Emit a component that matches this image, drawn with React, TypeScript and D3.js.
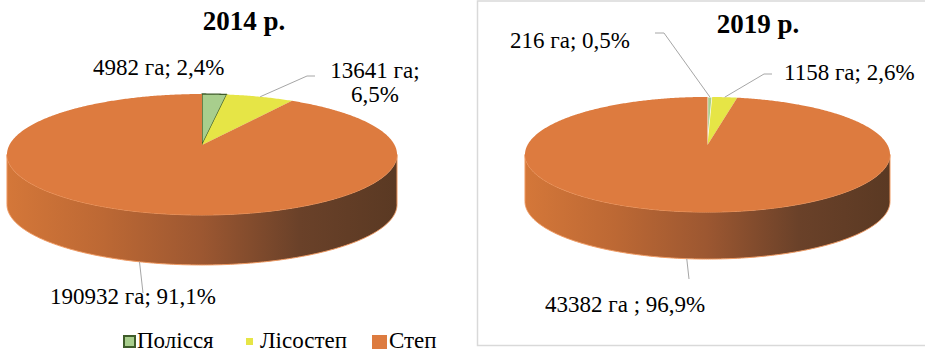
import React from "react";
import * as d3 from "d3";

const categories = ["Полісся", "Лісостеп", "Степ"];
const values2014 = [4982, 13641, 190932];
const values2019 = [216, 1158, 43382];
const labels2014 = ["4982 га; 2,4%", "13641 га;|6,5%", "190932 га; 91,1%"];
const labels2019 = ["216 га; 0,5%", "1158 га; 2,6%", "43382 га ; 96,9%"];
const titles = ["2014 р.", "2019 р."];

const COLORS = ["#A8CE8D", "#E6E546", "#DD7B3F"];
const FONT = "'Liberation Serif', 'Times New Roman', serif";

type Geo = { cx: number; cy: number; A: number; B: number; k: number; depth: number };

function proj(g: Geo, a: number): [number, number] {
  const X = Math.sin(a);
  const Z = Math.cos(a);
  const s = 1 / (1 + g.k * Z);
  return [g.cx + g.A * X * s, g.cy - g.B * Z * s];
}

function arcPts(g: Geo, a0: number, a1: number, dy = 0): [number, number][] {
  const n = Math.max(2, Math.ceil(Math.abs(a1 - a0) / 0.01));
  const pts: [number, number][] = [];
  for (let i = 0; i <= n; i++) {
    const a = a0 + ((a1 - a0) * i) / n;
    const p = proj(g, a);
    pts.push([p[0], p[1] + dy]);
  }
  return pts;
}

function Pie3D({
  id,
  values,
  geo,
  sliverStroke,
  labels,
  leaders,
  labelPos,
}: {
  id: string;
  values: number[];
  geo: Geo;
  sliverStroke: string[];
  labels: string[];
  leaders: ([number, number][] | null)[];
  labelPos: { x: number; y: number; anchor: string }[];
}) {
  const pie = d3.pie<number>().sort(null).value((d) => d)(values);
  const line = d3.line();
  // side: front part between extreme points
  const aR = Math.acos(-geo.k);
  const aL = 2 * Math.PI - aR;
  const topFront = arcPts(geo, aR, aL);
  const botFront = arcPts(geo, aL, aR, geo.depth);
  const sidePath = line([...topFront, ...botFront])! + "Z";
  const xs = topFront.map((p) => p[0]);
  const x0 = d3.min(xs)!;
  const x1 = d3.max(xs)!;

  return (
    <g>
      <defs>
        <linearGradient id={id + "side"} gradientUnits="userSpaceOnUse" x1={x0} x2={x1} y1={0} y2={0}>
          <stop offset="0" stopColor="#D47739" />
          <stop offset="0.25" stopColor="#BC6834" />
          <stop offset="0.5" stopColor="#9C5731" />
          <stop offset="0.75" stopColor="#6A4129" />
          <stop offset="1" stopColor="#5A3923" />
        </linearGradient>
      </defs>
      <path d={sidePath} fill={`url(#${id}side)`} stroke="#F09A62" strokeWidth={1} />
      {pie.map((s, i) => {
        const pts = arcPts(geo, s.startAngle, s.endAngle);
        const d = line([[geo.cx, geo.cy], ...pts])! + "Z";
        return (
          <path
            key={i}
            d={d}
            fill={COLORS[i]}
            stroke={sliverStroke[i]}
            strokeWidth={sliverStroke[i] === "none" ? 0 : 1.3}
            strokeLinejoin="round"
          />
        );
      })}
      {pie.map((s, i) => {
        const lp = leaders[i];
        if (!lp) return null;
        const mid = (s.startAngle + s.endAngle) / 2;
        const p = proj(geo, mid);
        const front = Math.cos(mid) < 0;
        const start: [number, number] = [p[0], p[1] + (front ? geo.depth : 0)];
        return (
          <path key={"l" + i} d={line([start, ...lp])!} fill="none" stroke="#A6A6A6" strokeWidth={1} />
        );
      })}
      {labels.map((t, i) => {
        const parts = t.split("|");
        const lp = labelPos[i];
        return (
          <text
            key={"t" + i}
            x={lp.x}
            y={lp.y}
            textAnchor={lp.anchor as any}
            fontFamily={FONT}
            fontSize={23}
            fill="#000"
          >
            {parts.map((p, j) => (
              <tspan key={j} x={lp.x} dy={j === 0 ? 0 : 24}>
                {p}
              </tspan>
            ))}
          </text>
        );
      })}
    </g>
  );
}

export default function App() {
  const geoL: Geo = { cx: 202, cy: 145, A: 192.6, B: 59, k: 0.157, depth: 50 };
  const geoR: Geo = { cx: 707.5, cy: 145, A: 180, B: 56, k: 0.165, depth: 47 };

  const legendItems = [
    { x: 123, label: categories[0] },
    { x: 246, label: categories[1] },
    { x: 372, label: categories[2] },
  ];

  return (
    <svg
      width={925}
      height={355}
      style={{ position: "absolute", left: 0, top: 0, background: "#fff" }}
    >
      <rect x={0} y={0} width={925} height={355} fill="#fff" />
      <rect x={477.5} y={1} width={460} height={344.5} fill="#fff" stroke="#D9D9D9" strokeWidth={1.5} />

      <text x={244} y={30} textAnchor="middle" fontFamily={FONT} fontWeight="bold" fontSize={27}>
        {titles[0]}
      </text>
      <text x={758} y={33} textAnchor="middle" fontFamily={FONT} fontWeight="bold" fontSize={27}>
        {titles[1]}
      </text>

      <Pie3D
        id="p14"
        values={values2014}
        geo={geoL}
        sliverStroke={["#3E5C2A", "none", "none"]}
        labels={labels2014}
        leaders={[null, [[307, 76], [315, 76]], [[143, 293]]]}
        labelPos={[
          { x: 93, y: 75, anchor: "start" },
          { x: 375, y: 78, anchor: "middle" },
          { x: 50, y: 304, anchor: "start" },
        ]}
      />
      <Pie3D
        id="p19"
        values={values2019}
        geo={geoR}
        sliverStroke={["#FFFFFF", "none", "none"]}
        labels={labels2019}
        leaders={[[[664, 33], [655, 33]], [[764, 74], [772, 74]], [[689, 279]]]}
        labelPos={[
          { x: 510, y: 48, anchor: "start" },
          { x: 784, y: 80, anchor: "start" },
          { x: 545, y: 312, anchor: "start" },
        ]}
      />

      {/* legend */}
      <rect x={124} y={336} width={11} height={11} fill={COLORS[0]} stroke="#3E5C2A" strokeWidth={2} />
      <rect x={246} y={338} width={7} height={7} fill={COLORS[1]} />
      <rect x={372} y={335} width={15} height={14} fill={COLORS[2]} />
      {legendItems.map((it, i) => (
        <text key={i} x={it.x + (i === 0 ? 14 : i === 1 ? 14 : 17)} y={348} fontFamily={FONT} fontSize={23}>
          {it.label}
        </text>
      ))}
    </svg>
  );
}
